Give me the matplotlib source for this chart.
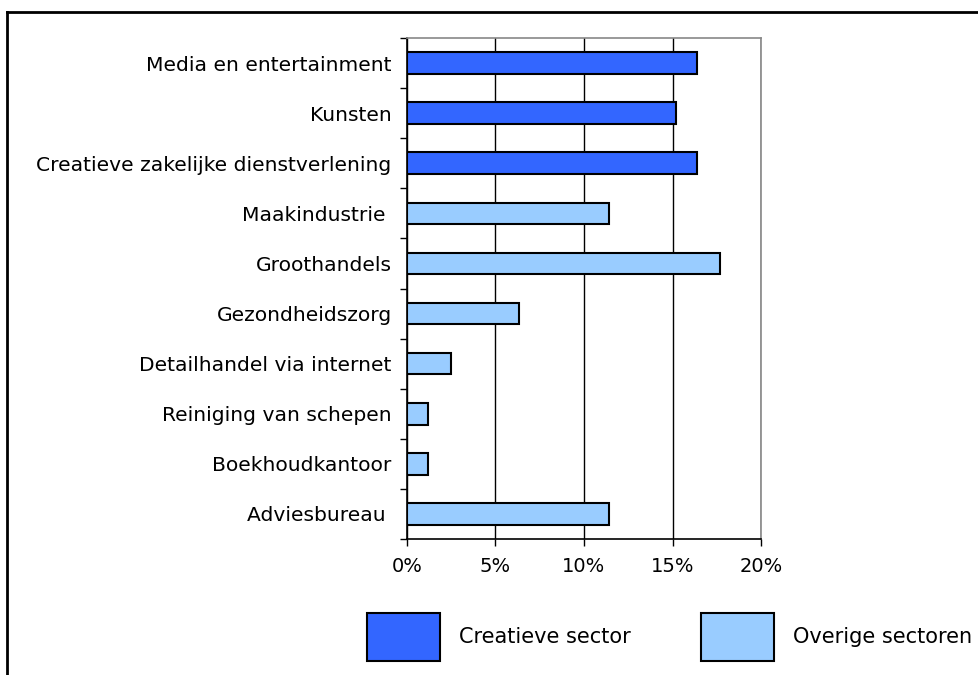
import matplotlib.pyplot as plt
from matplotlib.lines import Line2D
from matplotlib.patches import Patch
from matplotlib.ticker import FuncFormatter

categories = [
    "Media en entertainment",
    "Kunsten",
    "Creatieve zakelijke dienstverlening",
    "Maakindustrie ",
    "Groothandels",
    "Gezondheidszorg",
    "Detailhandel via internet",
    "Reiniging van schepen",
    "Boekhoudkantoor",
    "Adviesbureau ",
]
values = [16.4, 15.2, 16.4, 11.4, 17.7, 6.3, 2.5, 1.2, 1.2, 11.4]
creative = [True, True, True, False, False, False, False, False, False, False]

dark_blue = "#3366ff"
light_blue = "#99ccff"

plt.rcParams["font.family"] = "DejaVu Sans"

fig = plt.figure(figsize=(9.79, 6.75), dpi=100)
ax = fig.add_axes([407 / 979, 1 - 539 / 675, 354 / 979, 501 / 675])

ypos = list(range(len(categories)))
colors = [dark_blue if c else light_blue for c in creative]
ax.barh(ypos, values, height=0.43, color=colors, edgecolor="black",
        linewidth=1.5, zorder=3)

ax.set_ylim(len(categories) - 0.5, -0.5)
ax.set_xlim(0, 20)
ax.set_yticks(ypos)
ax.set_yticklabels(categories, fontsize=14.6)
ax.set_yticks([i - 0.5 for i in range(len(categories) + 1)], minor=True)
ax.tick_params(axis="y", which="major", length=0, pad=11)
ax.tick_params(axis="y", which="minor", length=5, width=1, direction="out")

ax.set_xticks([0, 5, 10, 15, 20])
ax.xaxis.set_major_formatter(FuncFormatter(lambda v, p: f"{int(v)}%"))
ax.tick_params(axis="x", length=5, width=1, direction="out", labelsize=14, pad=8)

ax.grid(axis="x", color="black", linewidth=1, zorder=0)
ax.spines["left"].set_color("black")
ax.spines["bottom"].set_color("black")
ax.spines["top"].set_color("#888888")
ax.spines["right"].set_color("#888888")
for s in ax.spines.values():
    s.set_linewidth(1.2)

handles = [Patch(facecolor=dark_blue, edgecolor="black", linewidth=1.5),
           Patch(facecolor=light_blue, edgecolor="black", linewidth=1.5)]
fig.legend(handles, ["Creatieve sector", "Overige sectoren"], ncol=2,
           loc="center left", bbox_to_anchor=(358.7 / 979, 1 - 637 / 675),
           frameon=False, fontsize=15, handlelength=3.5, handleheight=3.24,
           handletextpad=0.91, columnspacing=3.36, borderaxespad=0)

# outer frame, open at the right and bottom
fig.add_artist(Line2D([7 / 979, 7 / 979], [0, 1 - 12 / 675], color="black",
                      linewidth=2, transform=fig.transFigure))
fig.add_artist(Line2D([7 / 979, 1], [1 - 12 / 675, 1 - 12 / 675], color="black",
                      linewidth=2, transform=fig.transFigure))

fig.savefig("out.png", dpi=100)
